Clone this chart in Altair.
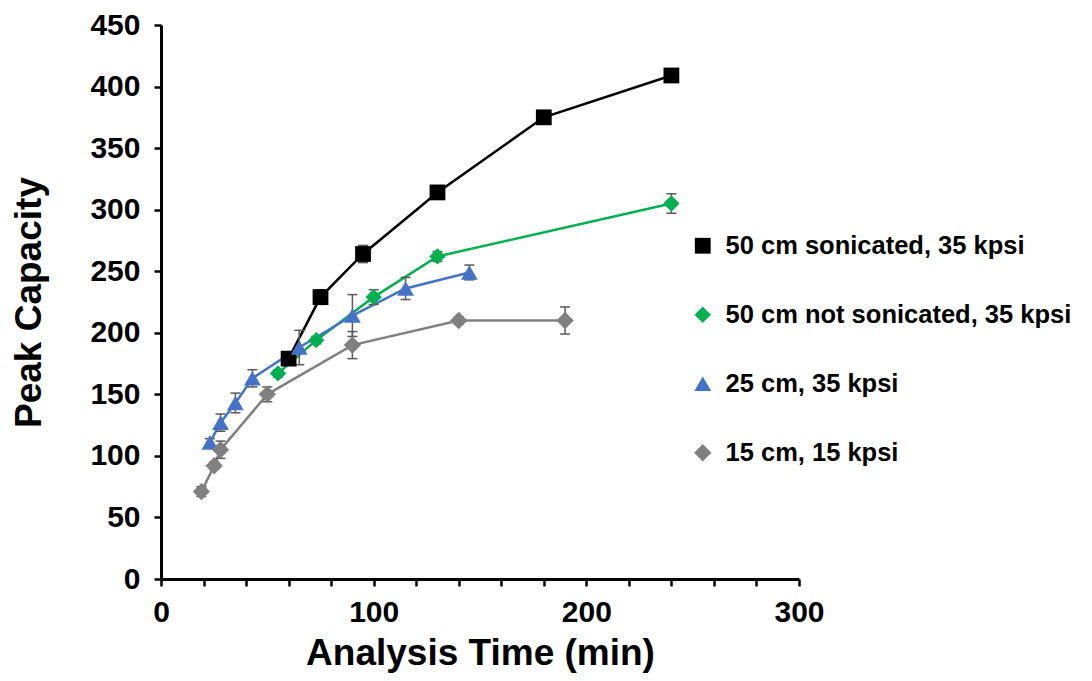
import altair as alt
import pandas as pd

series_names = ["50 cm sonicated, 35 kpsi", "50 cm not sonicated, 35 kpsi",
                "25 cm, 35 kpsi", "15 cm, 15 kpsi"]
series_colors = ["#000000", "#00B050", "#4472C4", "#808080"]
plot_shapes = ["square", "diamond", "triangle-up", "diamond"]
marker_sizes = [250, 300, 380, 300]
# legend glyphs: a thin filled bar (the series line) plus the series marker
legend_paths = [
    "M-1.57,-0.1H1.57V0.1H-1.57Z M-0.5,-0.5H0.5V0.5H-0.5Z",
    "M-1.57,-0.1H1.57V0.1H-1.57Z M0,-0.52L0.52,0L0,0.52L-0.52,0Z",
    "M-1.57,-0.1H1.57V0.1H-1.57Z M0,-0.6L0.68,0.5H-0.68Z",
    "M-1.57,-0.1H1.57V0.1H-1.57Z M0,-0.52L0.52,0L0,0.52L-0.52,0Z",
]

black_x = [60, 75, 95, 130, 180, 240]
black_y = [179, 229, 264, 314, 375, 409]
black_err = [3, 6, 7, 3, 3, 3]

green_x = [55, 73, 100, 130, 240]
green_y = [167, 194, 229, 262, 305]
green_err = [3, 3, 6, 4, 8]

blue_x = [23, 28, 35, 43, 65, 90, 115, 145]
blue_y = [111, 127, 143, 163, 188, 214, 236, 249]
blue_err = [3, 7, 8, 7, 14, 17, 9, 6]

gray_x = [19, 25, 28, 50, 90, 140, 190]
gray_y = [71, 92, 105, 150, 190, 210, 210]
gray_err = [4, 3, 7, 6, 11, 3, 11]

x_ticks = list(range(0, 301, 20))
y_ticks = list(range(0, 451, 25))

rows = []
for name, xs, ys, es in zip(series_names,
                            [black_x, green_x, blue_x, gray_x],
                            [black_y, green_y, blue_y, gray_y],
                            [black_err, green_err, blue_err, gray_err]):
    for i, (a, b, e) in enumerate(zip(xs, ys, es)):
        rows.append({"series": name, "mk": name, "t": a, "pc": b, "err": e, "idx": i})
df = pd.DataFrame(rows)

FONT = "Liberation Sans"

x_enc = alt.X("t:Q", scale=alt.Scale(domain=[0, 300], nice=False, zero=True),
              axis=alt.Axis(values=x_ticks,
                            labelExpr="datum.value % 100 === 0 ? datum.label : ''",
                            title="Analysis Time (min)", titleY=85,
                            titleBaseline="alphabetic", labelPadding=11))
y_enc = alt.Y("pc:Q", scale=alt.Scale(domain=[0, 450], nice=False),
              axis=alt.Axis(values=y_ticks,
                            labelExpr="datum.value % 50 === 0 ? datum.label : ''",
                            title="Peak Capacity", titleX=-121,
                            titleBaseline="alphabetic", labelPadding=14))

color_scale = alt.Scale(domain=series_names, range=series_colors)

paths_js = "[" + ",".join("'" + p + "'" for p in legend_paths) + "]"
colors_js = "[" + ",".join("'" + c + "'" for c in series_colors) + "]"

base = alt.Chart(df)

lines = base.mark_line(strokeWidth=2.5).encode(
    x=x_enc, y=y_enc,
    color=alt.Color("series:N", scale=color_scale,
                    legend=alt.Legend(
                        title=None,
                        symbolType={"expr": paths_js + "[datum.index]"},
                        symbolFillColor={"expr": colors_js + "[datum.index]"},
                        symbolStrokeWidth=0, symbolSize=620, symbolOpacity=1,
                        symbolOffset=6, labelOffset=10)),
    order="idx:Q",
)

err = base.transform_calculate(lo="datum.pc - datum.err", hi="datum.pc + datum.err")

err_rule = err.mark_rule(color="#595959", strokeWidth=1.5).encode(
    x="t:Q", y="lo:Q", y2="hi:Q")
cap_hi = err.mark_tick(color="#595959", orient="horizontal", size=10,
                       thickness=1.5, opacity=1).encode(x="t:Q", y="hi:Q")
cap_lo = err.mark_tick(color="#595959", orient="horizontal", size=10,
                       thickness=1.5, opacity=1).encode(x="t:Q", y="lo:Q")

points = base.mark_point(filled=True, opacity=1).encode(
    x="t:Q", y="pc:Q",
    color=alt.Color("series:N", scale=color_scale),
    shape=alt.Shape("mk:N", scale=alt.Scale(domain=series_names, range=plot_shapes),
                    legend=None),
    size=alt.Size("mk:N", scale=alt.Scale(domain=series_names, range=marker_sizes),
                  legend=None),
)

chart = alt.layer(lines, err_rule, cap_hi, cap_lo, points).properties(
    width=638, height=554,
    autosize=alt.AutoSizeParams(type="none"),
    padding={"left": 153, "top": 17, "right": 285, "bottom": 94},
).configure_view(stroke=None).configure_axis(
    grid=False, domainColor="black", domainWidth=3, tickColor="black",
    tickWidth=2.5, tickSize=7, labelFont=FONT, labelFontSize=30,
    labelFontWeight="bold", labelColor="black", titleFont=FONT,
    titleFontSize=37, titleFontWeight="bold", titleColor="black",
    labelOverlap=False, labelFlush=False,
).configure_legend(
    orient="none", legendX=523, legendY=208, padding=0,
    labelFont=FONT, labelFontSize=25.5, labelFontWeight="bold", labelColor="black",
    labelLimit=500, rowPadding=42,
)

chart.save("out.html", embed_options={"renderer": "svg", "actions": False})
